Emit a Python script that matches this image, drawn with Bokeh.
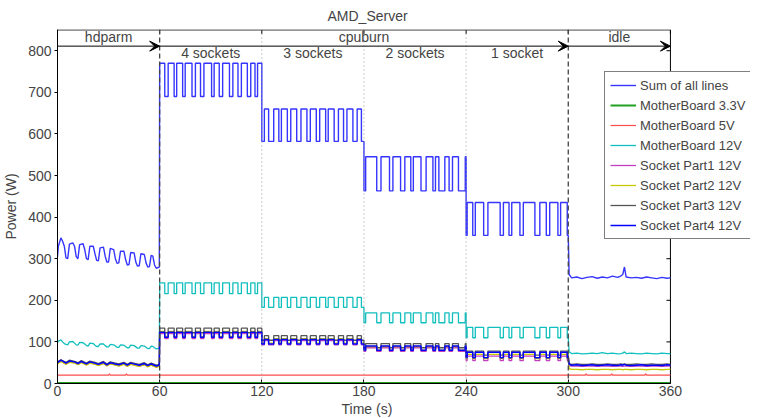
from bokeh.plotting import figure
from bokeh.models import (Range1d, FixedTicker, Span, Arrow, VeeHead, Label, Legend, LegendItem, Title)
from bokeh.embed import file_html
from bokeh.resources import INLINE

FONT = "Liberation Sans"

# ---------------- data ----------------
x_ticks = [0, 60, 120, 180, 240, 300, 360]
y_ticks = [0, 100, 200, 300, 400, 500, 600, 700, 800]
x_max = 360
y_max = 850

series_names = ["Sum of all lines", "MotherBoard 3.3V", "MotherBoard 5V", "MotherBoard 12V",
                "Socket Part1 12V", "Socket Part2 12V", "Socket Part3 12V", "Socket Part4 12V"]
series_colors = ["#3535ff", "#22a022", "#ff4c4c", "#12bfbf",
                 "#c040c0", "#c8c800", "#555555", "#0000ff"]

# hdparm phase (0-60 s)
t_hd = [0, 0.5, 2, 3, 4, 5, 6, 7, 9, 10, 11, 12, 13, 15, 16, 17, 18, 19, 21, 22,
        23, 24, 25, 27, 28, 29, 30, 31, 33, 34, 35, 36, 37, 39, 40, 41, 42, 43, 45, 46,
        47, 48, 49, 51, 52, 53, 54, 55, 56, 57, 58, 59.8]
sum_hd = [305, 330, 350, 342, 330, 302, 300, 335, 338, 330, 305, 300, 334, 336, 322, 300, 298, 330, 330, 312,
          296, 295, 326, 328, 306, 292, 292, 325, 322, 300, 289, 290, 318, 318, 298, 285, 286, 315, 314, 292,
          282, 283, 312, 310, 290, 280, 281, 308, 306, 285, 277, 280]
mb12_hd = [98, 102, 105, 100, 96, 94, 93, 100, 101, 97, 93, 92, 99, 98, 95, 91, 90, 97, 96, 92,
           89, 89, 95, 95, 91, 88, 88, 94, 93, 90, 87, 87, 93, 92, 89, 86, 86, 92, 91, 88,
           85, 85, 91, 90, 87, 84, 84, 90, 89, 86, 83, 85]
t_hd_s = [0, 2, 5, 7, 10, 12, 14, 17, 19, 22, 24, 27, 29, 31, 34, 36, 39, 41, 43, 46,
          48, 51, 53, 55, 58, 59.8]
s4_hd = [50, 56, 49, 54, 52, 48, 53, 47, 52, 49, 46, 51, 45, 50, 47, 45, 49, 44, 49, 46, 44, 48, 43, 47, 42, 44]
s3_hd = [52, 57, 51, 56, 53, 50, 55, 49, 54, 51, 48, 53, 47, 52, 49, 47, 51, 46, 51, 48, 46, 50, 45, 49, 44, 46]
s1_hd = [48, 54, 47, 52, 50, 46, 51, 45, 50, 47, 44, 49, 43, 48, 45, 43, 47, 42, 47, 44, 42, 46, 41, 45, 40, 42]
s2_hd = [47, 53, 46, 51, 49, 45, 50, 44, 49, 46, 43, 48, 42, 47, 44, 42, 46, 41, 46, 43, 41, 45, 40, 44, 39, 41]

# cpuburn phases: toggle times and on/off states of the load
phase_bounds = [(60, 120), (120, 180), (180, 240), (240, 300)]
phase_toggles = [
    [60, 63, 65, 68.5, 70, 73.5, 75, 79, 81, 84, 86, 90.5, 92, 95, 97, 101, 103, 106, 108, 111.5, 113.5, 116, 117.5],
    [120, 121.5, 124, 127, 130, 131.5, 135, 137, 140.5, 143, 146.5, 148.5, 152, 154, 157.5, 159, 162.5, 165, 168, 170, 173.5, 176, 178.5],
    [180, 181, 187.5, 190, 195, 197, 201.5, 204, 207.5, 209, 213.5, 216.5, 220.5, 222, 224, 227.5, 230, 232, 235.5, 239.5],
    [240, 240.6, 243.9, 245.4, 250.3, 252.8, 260, 261.9, 265.2, 266.8, 271.6, 273.6, 280.4, 283.3, 287.1, 289.1, 293.9, 295.5, 299.4],
]
phase_states = [
    [1, 0, 1, 0, 1, 0, 1, 0, 1, 0, 1, 0, 1, 0, 1, 0, 1, 0, 1, 0, 1, 0, 1],
    [0, 1, 0, 1, 0, 1, 0, 1, 0, 1, 0, 1, 0, 1, 0, 1, 0, 1, 0, 1, 0, 1, 0],
    [0, 1, 0, 1, 0, 1, 0, 1, 0, 1, 0, 1, 0, 1, 0, 1, 0, 1, 0, 1],
    [0, 1, 0, 1, 0, 1, 0, 1, 0, 1, 0, 1, 0, 1, 0, 1, 0, 1, 0],
]
# (high, low) level per phase
sum_levels = [(770, 690), (660, 582), (545, 463), (435, 356)]
mb12_levels = [(242, 216), (207, 183), (170, 146), (135, 110)]
s1_levels = [(120, 108), (103, 93), (86, 77), (66, 55)]
s2_levels = [(125, 113), (108, 97), (89, 80), (70, 60)]
s3_levels = [(133, 122), (115, 104), (96, 86), (78, 68)]
s4_levels = [(123, 111), (106, 95), (90, 80), (75, 62)]

# idle phase (300-360 s)
t_idle = [300.5, 302, 305, 308, 311, 314, 317, 320, 323, 326, 329, 331, 332, 333, 334, 337, 340, 343, 346, 349, 352, 355, 358, 360]
sum_idle = [262, 254, 256, 252, 255, 257, 253, 256, 254, 258, 255, 259, 262, 280, 256, 254, 255, 253, 256, 254, 252, 255, 253, 254]
mb12_idle = [76, 72, 73, 71, 72, 73, 72, 74, 72, 73, 71, 72, 73, 76, 72, 73, 72, 71, 73, 72, 71, 73, 72, 72]
s4_idle = [46, 44, 45, 43, 44, 45, 43, 44, 45, 44, 43, 45, 44, 46, 44, 43, 44, 45, 43, 44, 44, 43, 45, 44]
s3_idle = [48, 46, 47, 46, 46, 47, 46, 46, 47, 46, 46, 47, 46, 47, 46, 46, 47, 46, 46, 47, 46, 46, 47, 46]
s1_idle = [43, 42, 42, 41, 42, 42, 41, 42, 42, 41, 42, 42, 41, 42, 42, 41, 42, 42, 41, 42, 42, 41, 42, 42]
s2_idle = [36, 34, 34, 33, 34, 34, 33, 34, 34, 33, 34, 34, 33, 34, 34, 33, 34, 34, 33, 34, 34, 33, 34, 34]

# motherboard 5V and 3.3V rails
t_mb5 = [0, 30, 30.5, 31, 40, 40.5, 41, 310, 310.5, 311, 325, 325.5, 326, 345, 345.5, 346, 360]
mb5 = [20, 20, 23, 20, 20, 23, 20, 20, 23, 20, 20, 23, 20, 20, 23, 20, 20]
t_mb33 = [0, 360]
mb33 = [1, 1]

phase_labels = ["4 sockets", "3 sockets", "2 sockets", "1 socket"]
phase_label_x = [90, 150, 210, 270]
top_labels = ["hdparm", "cpuburn", "idle"]
top_label_x = [30, 180, 330]


def build(hd_t, hd_v, levels, idle_t, idle_v):
    xs, ys = list(hd_t), list(hd_v)
    for (a, b), tog, st, (hi, lo) in zip(phase_bounds, phase_toggles, phase_states, levels):
        ends = tog[1:] + [b]
        for s, e, k in zip(tog, ends, st):
            v = hi if k else lo
            xs += [s, e]
            ys += [v, v]
    xs += list(idle_t)
    ys += list(idle_v)
    return xs, ys


series_xy = [
    build(t_hd, sum_hd, sum_levels, t_idle, sum_idle),
    (t_mb33, mb33),
    (t_mb5, mb5),
    build(t_hd, mb12_hd, mb12_levels, t_idle, mb12_idle),
    build(t_hd_s, s1_hd, s1_levels, t_idle, s1_idle),
    build(t_hd_s, s2_hd, s2_levels, t_idle, s2_idle),
    build(t_hd_s, s3_hd, s3_levels, t_idle, s3_idle),
    build(t_hd_s, s4_hd, s4_levels, t_idle, s4_idle),
]
widths = [1.4, 2.0, 1.2, 1.3, 1.3, 1.3, 1.3, 1.5]

# ---------------- figure ----------------
W, H = 750, 418
BL, BR, BT, BB = 49, 0, 29, 35
frame_w = W - BL - BR
frame_h = H - BT - BB
axis_px = 620  # pixels used by the 0..360 axis
p = figure(width=W, height=H, output_backend="svg", toolbar_location=None,
           x_range=Range1d(0, x_max * frame_w / axis_px), y_range=Range1d(0, y_max + 1),
           min_border_left=BL, min_border_right=BR, min_border_top=BT, min_border_bottom=BB,
           title="AMD_Server")
p.title.text_font = FONT
p.title.text_font_size = "14px"
p.title.text_font_style = "normal"
p.title.align = "left"
p.title.offset = 270
p.title.standoff = 11
p.xgrid.visible = False
p.ygrid.visible = False
p.outline_line_color = None
p.background_fill_color = "white"
p.border_fill_color = "white"

for ax in (p.xaxis[0], p.yaxis[0]):
    ax.major_label_text_font = FONT
    ax.major_label_text_font_size = "14px"
    ax.axis_label_text_font = FONT
    ax.axis_label_text_font_size = "14px"
    ax.axis_label_text_font_style = "normal"
    ax.minor_tick_line_color = None
    ax.axis_line_color = "black"
    ax.major_tick_line_color = "black"
p.xaxis.ticker = FixedTicker(ticks=x_ticks)
p.yaxis.ticker = FixedTicker(ticks=y_ticks)
p.xaxis.bounds = (0, x_max)
p.yaxis.bounds = (0, y_max)
p.yaxis.axis_label = "Power (W)"
p.xaxis.major_tick_in = 4
p.xaxis.major_tick_out = 0
p.xaxis.major_label_standoff = 2
p.yaxis.major_tick_in = 0
p.yaxis.major_tick_out = 3
p.yaxis.major_label_standoff = 3
p.yaxis.axis_label_standoff = 6

# x axis title as a below-title, centred under the 0..360 axis
p.add_layout(Title(text="Time (s)", align="left", offset=284, text_font=FONT,
                   text_font_size="14px", text_font_style="normal", standoff=0), "below")

# phase separators
for xv in (60, 300):
    p.add_layout(Span(location=xv, dimension="height", line_color="#444444",
                      line_dash="5 3", line_width=1.3))
for xv in (120, 180, 240):
    p.add_layout(Span(location=xv, dimension="height", line_color="#999999",
                      line_dash="1 3", line_width=1))

# box: top and right borders with inward ticks
p.line([0, x_max], [y_max, y_max], line_color="black", line_width=1)
p.line([x_max, x_max], [0, y_max], line_color="black", line_width=1)
tick_dx = 4 * x_max / axis_px
tick_dy = 4 * y_max / frame_h
p.segment(x0=[x_max - tick_dx] * len(y_ticks), y0=y_ticks, x1=[x_max] * len(y_ticks), y1=y_ticks,
          line_color="black", line_width=1)
p.segment(x0=x_ticks, y0=[y_max - tick_dy] * len(x_ticks), x1=x_ticks, y1=[y_max] * len(x_ticks),
          line_color="black", line_width=1)

# series
items = []
for name, color, (xs, ys), w in zip(series_names, series_colors, series_xy, widths):
    r = p.line(xs, ys, line_color=color, line_width=w)
    items.append(LegendItem(label=name, renderers=[r]))

# arrows and phase labels
arrow_y = 811
for a, b in ((0, 60), (60, 300), (300, 360)):
    p.add_layout(Arrow(x_start=a, y_start=arrow_y, x_end=b, y_end=arrow_y,
                       line_color="black", line_width=1,
                       end=VeeHead(size=10, fill_color="black", line_color="black")))
for txt, xv in zip(top_labels, top_label_x):
    p.add_layout(Label(x=xv, y=833, text=txt, text_font=FONT, text_font_size="14px",
                       text_align="center", text_baseline="middle"))
for txt, xv in zip(phase_labels, phase_label_x):
    p.add_layout(Label(x=xv, y=794, text=txt, text_font=FONT, text_font_size="14px",
                       text_align="center", text_baseline="middle"))

legend = Legend(items=items, location=(547, 144))
legend.label_text_font = FONT
legend.label_text_font_size = "13px"
legend.glyph_width = 26
legend.glyph_height = 16
legend.label_height = 16
legend.label_standoff = 4
legend.spacing = 4
legend.padding = 5
legend.margin = 0
legend.border_line_color = "black"
legend.border_line_width = 1
legend.background_fill_alpha = 1
p.add_layout(legend, "center")

open("out.html", "w").write(file_html(p, INLINE))
